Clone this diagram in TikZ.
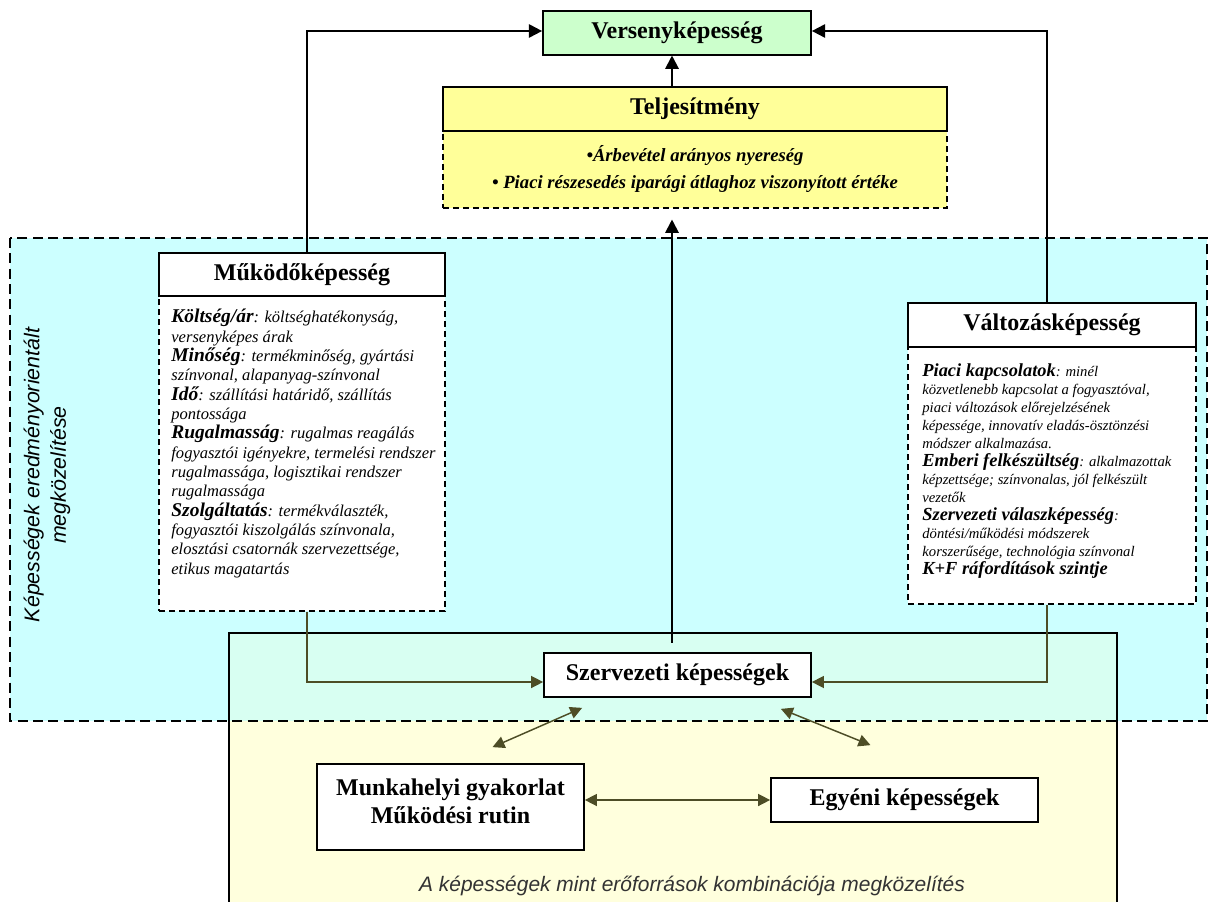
\documentclass[tikz,border=0pt]{standalone}
\usepackage{fontspec}
\setmainfont{Liberation Serif}
\setsansfont{Liberation Sans}
\usetikzlibrary{
        arrows.meta,
        backgrounds,
        calc,
        positioning
    }
\definecolor{versenyzold}{HTML}{CCFFCC}
\definecolor{teljsarga}{HTML}{FFFF99}
\definecolor{eredmkek}{HTML}{CCFFFF}
\definecolor{eroforrsarga}{HTML}{FFFFDD}
\definecolor{atfedes}{HTML}{D8FFF2}
\definecolor{olivszin}{HTML}{4D4D26}
\newcommand{\kw}[1]{{\fontsize{14.6}{14.5}\selectfont\bfseries #1}}
\newcommand{\kwk}[1]{{\fontsize{13.8}{13.5}\selectfont\bfseries #1}}
\newcommand{\szoros}{\lineskiplimit=-8pt\relax}
\tikzset{fejlec/.style={draw,line width=1.3pt,fill=white,font=\fontsize{18}{21}\selectfont\bfseries,minimum height=32.5pt,inner sep=0pt}}
\tikzset{torzs/.style={draw,line width=1.3pt,dash pattern=on 4.5pt off 3pt,fill=white}}
\tikzset{tartalom/.style={align=left,anchor=north west,inner sep=0pt}}
\tikzset{felnyil/.style={line width=1.5pt,-{Triangle[length=10pt,width=10pt]}}}
\tikzset{olivfel/.style={line width=1.1pt,draw=olivszin,-{Triangle[length=9pt,width=9pt]}}}
\tikzset{olivket/.style={line width=1.1pt,draw=olivszin,{Triangle[length=9pt,width=9pt]}-{Triangle[length=9pt,width=9pt]}}}

\begin{document}
\begin{tikzpicture}[x=0.75pt,y=-0.75pt]
        \useasboundingbox (0,0) rectangle (1209,902);
        % the two approaches as background areas
        \begin{scope}[on background layer]
            \fill[eredmkek] (10,238) rectangle (1207,721);
            \fill[atfedes] (229,633) rectangle (1117,721);
            \fill[eroforrsarga] (229,721) rectangle (1117,910);
        \end{scope}
        \draw[line width=1.3pt,dash pattern=on 7.5pt off 4pt] (10,238) rectangle (1207,721);
        \draw[line width=1.3pt] (229,910) -- (229,633) -- (1117,633) -- (1117,910);
        \node[rotate=90,align=center,font=\sffamily\itshape\fontsize{16}{20}\selectfont] (eredm) at (47,475) {Képességek eredményorientált\\megközelítése};
        \node[font=\sffamily\itshape\fontsize{15.7}{18}\selectfont,text=black!80] (eroforr) at (692,886) {A képességek mint erőforrások kombinációja megközelítés};

        \node[fejlec,fill=versenyzold,minimum width=201pt] (verseny) at (677,33) {Versenyképesség};
        \node[torzs,fill=teljsarga,minimum width=378pt,minimum height=58.5pt,align=center,font=\fontsize{14}{20}\selectfont\bfseries\itshape] (teljt) at (695,169) {•Árbevétel arányos nyereség\\• Piaci részesedés iparági átlaghoz viszonyított értéke};
        \node[fejlec,fill=teljsarga,minimum width=378pt] (teljf) at (695,109) {Teljesítmény};

        \node[torzs,minimum width=214.5pt,minimum height=236.25pt] (mukt) at (302,453.5) {};
        \node[fejlec,minimum width=214.5pt] (mukf) at (302,274.5) {Működőképesség};
        \node[tartalom,font=\fontsize{12.4}{14.5}\selectfont\itshape\szoros] (mukszov) at ($(mukt.north west)+(13,14)$) {\kw{Költség/ár}: költséghatékonyság,\\
            versenyképes árak\\
            \kw{Minőség}: termékminőség, gyártási\\
            színvonal, alapanyag-színvonal\\
            \kw{Idő}: szállítási határidő, szállítás\\
            pontossága\\
            \kw{Rugalmasság}: rugalmas reagálás\\
            fogyasztói igényekre, termelési rendszer\\
            rugalmassága, logisztikai rendszer\\
            rugalmassága\\
            \kw{Szolgáltatás}: termékválaszték,\\
            fogyasztói kiszolgálás színvonala,\\
            elosztási csatornák szervezettsége,\\
            etikus magatartás};

        \node[torzs,minimum width=216pt,minimum height=192.75pt] (valtt) at (1052,475.5) {};
        \node[fejlec,minimum width=216pt] (valtf) at (1052,325) {Változásképesség};
        \node[tartalom,font=\fontsize{11}{13.5}\selectfont\itshape\szoros] (valtszov) at ($(valtt.north west)+(15,17)$) {\kwk{Piaci kapcsolatok}: minél\\
            közvetlenebb kapcsolat a fogyasztóval,\\
            piaci változások előrejelzésének\\
            képessége, innovatív eladás-ösztönzési\\
            módszer alkalmazása.\\
            \kwk{Emberi felkészültség}: alkalmazottak\\
            képzettsége; színvonalas, jól felkészült\\
            vezetők\\
            \kwk{Szervezeti válaszképesség}:\\
            döntési/működési módszerek\\
            korszerűsége, technológia színvonal\\
            \kwk{K+F ráfordítások szintje}};

        \node[fejlec,minimum width=200.25pt,minimum height=33pt] (szerv) at (677.5,675) {Szervezeti képességek};
        \node[fejlec,minimum width=200.25pt,minimum height=64.5pt] (munka) at (450.5,807) {};
        \node[align=center,font=\fontsize{18}{21}\selectfont\bfseries] (munkaszov) at ($(munka.center)+(0,-6)$) {Munkahelyi gyakorlat\\Működési rutin};
        \node[fejlec,minimum width=200.25pt,minimum height=33pt] (egyeni) at (904.5,800) {Egyéni képességek};

        \coordinate (gerinc) at (672,0);
        \draw[felnyil] (teljf.north -| gerinc) -- (verseny.south -| gerinc);
        \draw[felnyil] ($(mukf.north)+(5,0)$) |- ($(verseny.west)+(0,-2)$);
        \draw[felnyil] ($(valtf.north)+(-5,0)$) |- ($(verseny.east)+(0,-2)$);
        \draw[felnyil,shorten <=7pt,shorten >=8pt] (szerv.north -| gerinc) -- (teljt.south -| gerinc);

        \draw[olivfel] ($(mukt.south)+(5,0)$) |- ($(szerv.west)+(0,7)$);
        \draw[olivfel] ($(valtt.south)+(-5,0)$) |- ($(szerv.east)+(0,7)$);
        \draw[olivket] ($(szerv.south west)+(39,10)$) -- ($(munka.north)+(42,-16)$);
        \draw[olivket] ($(szerv.south east)+(-31,11)$) -- ($(egyeni.north)+(-34,-32)$);
        \draw[olivket] (munka.east |- egyeni.west) -- (egyeni.west);
\end{tikzpicture}
\end{document}
